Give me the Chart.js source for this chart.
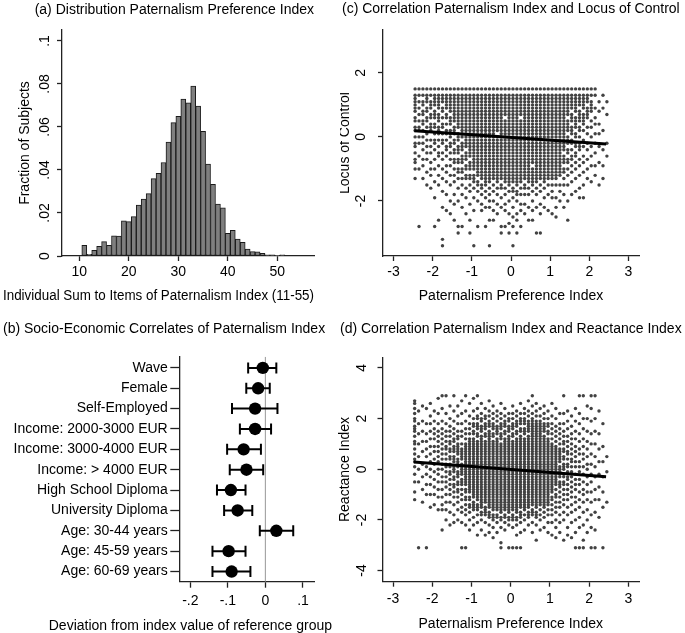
<!DOCTYPE html>
<html>
<head>
<meta charset="utf-8">
<script src="https://cdn.jsdelivr.net/npm/chart.js@4.4.1/dist/chart.umd.min.js"></script>
<style>
  html, body { margin: 0; padding: 0; background: #fff; overflow: hidden; }
  body { width: 685px; height: 633px; position: relative; }
  canvas { position: absolute; }
</style>
</head>
<body>
<canvas id="histChart" width="344" height="312" style="left:0;top:0;width:344px;height:312px"></canvas>
<canvas id="coefChart" width="334" height="320" style="left:0;top:315px;width:334px;height:320px"></canvas>
<canvas id="locusChart" width="360" height="312" style="left:340px;top:0;width:360px;height:312px"></canvas>
<canvas id="reactChart" width="364" height="320" style="left:336px;top:315px;width:364px;height:320px"></canvas>
<script>
// (a) histogram of the index sum
let histX = [11,12,13,14,15,16,17,18,19,20,21,22,23,24,25,26,27,28,29,30,31,32,33,34,35,36,37,38,39,40,41,42,43,44,45,46,47,48,49,50,51];
let histFrac = [.005,.0008,.0026,.0045,.0067,.005,.0094,.0093,.0164,.016,.0183,.0237,.0265,.029,.036,.0385,.0435,.053,.062,.065,.073,.0712,.079,.0697,.058,.0427,.0333,.0241,.0224,.0105,.0119,.0079,.0063,.0032,.002,.0019,.0012,.0006,.0005,.0003,.0006];
let histXTicks = [10,20,30,40,50];
let histYTicks = [0,.02,.04,.06,.08,.1];

// (b) coefficients with confidence intervals
let coefLabels = ['Wave','Female','Self-Employed','Income: 2000-3000 EUR','Income: 3000-4000 EUR','Income: > 4000 EUR','High School Diploma','University Diploma','Age: 30-44 years','Age: 45-59 years','Age: 60-69 years'];
let coefEst = [-.007,-.0195,-.0275,-.0275,-.058,-.0505,-.092,-.074,.029,-.098,-.09];
let coefLow = [-.046,-.051,-.089,-.068,-.102,-.095,-.129,-.11,-.015,-.141,-.141];
let coefHigh = [.029,.0115,.032,.015,-.012,-.006,-.053,-.035,.074,-.053,-.04];
let coefXTicks = [-.2,-.1,0,.1];

// (c) paternalism index vs locus of control, points grouped by index column
let idxTicks = [-3,-2,-1,0,1,2,3];
let locYTicks = [-2,0,2];
let locFitX = [-2.47,2.43];
let locFitY = [.19,-.22];
let locCols = [
  [-2.45,[1.5,1.3,1.2,1.1,1,.9,.8,.6,.5,.3,.2,0,-.2,-.3,-.5,-.7,-.8,-1,-1.3]],
  [-2.35,[1.5,1.3,1.1,.9,.7,.5,.3,.2,0,-.2,-.6,-1,-2.8]],
  [-2.25,[1.5,1.3,1.1,1,.8,.7,.5,.4,.2,0,-.2,-.4,-.7,-.9,-1.3]],
  [-2.15,[1.5,1.3,1.2,1.1,.9,.8,.6,.5,.3,.1,-.1,-.3,-.5,-.7,-1.1,-1.5]],
  [-2.05,[1.5,1.3,1.1,1,.9,.7,.6,.4,.3,.2,-.1,-.3,-.5,-.8,-1,-1.2,-1.6]],
  [-1.95,[1.5,1.3,1.2,1.1,1,.8,.7,.6,.4,.3,.1,-.1,-.2,-.4,-.7,-1,-1.4,-1.9,-2.8]],
  [-1.85,[1.5,1.3,1.2,1.1,1,.9,.7,.6,.5,.3,.2,.1,-.1,-.3,-.5,-.6,-.9,-1.2,-1.5,-2.6]],
  [-1.75,[1.5,1.3,1.2,1.1,.9,.8,.6,.4,.3,.1,-.1,-.2,-.5,-.7,-1,-1.3,-1.7,-2.2,-3.2,-3.4]],
  [-1.65,[1.5,1.3,1.2,1.1,1,.9,.7,.6,.4,.2,.1,-.1,-.3,-.4,-.6,-.9,-1.1,-1.4,-1.8,-2.3]],
  [-1.55,[1.5,1.3,1.2,1.1,1,.9,.8,.6,.5,.4,.2,.1,0,-.2,-.3,-.5,-.7,-.9,-1.2,-1.5,-2,-2.4]],
  [-1.45,[1.5,1.3,1.2,1.1,1,.9,.8,.7,.6,.5,.3,.2,.1,-.1,-.2,-.4,-.5,-.7,-.8,-1,-1.2,-1.4,-1.8,-2.1,-2.6]],
  [-1.35,[1.5,1.3,1.2,1.1,1,.9,.8,.7,.6,.5,.4,.3,.1,0,-.1,-.3,-.4,-.5,-.7,-.8,-1,-1.1,-1.3,-1.6,-2,-2.8,-3]],
  [-1.25,[1.5,1.3,1.2,1.1,1,.9,.8,.7,.6,.5,.4,.3,.2,.1,0,-.2,-.3,-.4,-.6,-.7,-.8,-1,-1.1,-1.3,-1.5,-1.8,-2.2,-2.8]],
  [-1.15,[1.5,1.3,1.2,1.1,1,.9,.8,.7,.6,.5,.4,.3,.2,.1,0,-.1,-.2,-.3,-.5,-.6,-.7,-.9,-1,-1.2,-1.3,-1.6,-1.9,-2.4]],
  [-1.05,[1.5,1.3,1.2,1.1,1,.9,.8,.7,.6,.5,.4,.3,.2,.1,0,-.1,-.2,-.3,-.4,-.5,-.6,-.8,-.9,-1,-1.2,-1.3,-1.5,-1.7,-2.1,-2.6,-3]],
  [-.95,[1.5,1.3,1.2,1.1,1,.9,.8,.7,.6,.5,.4,.3,.2,.1,0,-.1,-.2,-.3,-.4,-.5,-.6,-.7,-.8,-.9,-1,-1.2,-1.3,-1.4,-1.6,-1.9,-2.3,-3.4]],
  [-.85,[1.5,1.3,1.2,1.1,1,.9,.8,.7,.6,.5,.4,.3,.2,.1,0,-.1,-.2,-.3,-.4,-.5,-.6,-.7,-.8,-.9,-1,-1.1,-1.2,-1.4,-1.5,-1.7,-2,-2.8]],
  [-.75,[1.5,1.3,1.2,1.1,1,.9,.8,.7,.6,.5,.4,.3,.2,.1,0,-.1,-.2,-.3,-.4,-.5,-.6,-.7,-.8,-.9,-1,-1.1,-1.2,-1.3,-1.5,-1.6,-1.8,-2.1,-2.3]],
  [-.65,[1.5,1.3,1.2,1.1,1,.9,.8,.7,.6,.5,.4,.3,.2,.1,0,-.1,-.2,-.3,-.4,-.5,-.6,-.7,-.8,-.9,-1,-1.1,-1.2,-1.3,-1.4,-1.5,-1.7,-1.9,-2.2,-2.8]],
  [-.55,[1.5,1.3,1.2,1.1,1,.9,.8,.7,.6,.5,.4,.3,.2,.1,0,-.1,-.2,-.3,-.4,-.5,-.6,-.7,-.8,-.9,-1,-1.1,-1.2,-1.3,-1.4,-1.6,-1.8,-2,-2.2,-2.6,-3.4]],
  [-.45,[1.5,1.3,1.2,1.1,1,.9,.8,.7,.6,.5,.4,.3,.2,.1,0,-.1,-.2,-.3,-.4,-.5,-.6,-.7,-.8,-.9,-1,-1.1,-1.2,-1.3,-1.5,-1.7,-2,-2.3,-2.6]],
  [-.35,[1.5,1.3,1.2,1.1,1,.9,.8,.7,.6,.5,.4,.3,.2,0,-.1,-.2,-.3,-.4,-.5,-.6,-.7,-.8,-.9,-1,-1.1,-1.2,-1.3,-1.4,-1.6,-1.8,-2.1,-2.4]],
  [-.25,[1.5,1.3,1.2,1.1,1,.9,.8,.7,.6,.5,.4,.3,.2,.1,0,-.1,-.2,-.3,-.4,-.5,-.6,-.7,-.8,-.9,-1,-1.1,-1.2,-1.3,-1.5,-1.6,-1.9,-2.2,-2.8,-3]],
  [-.15,[1.5,1.3,1.2,1.1,1,.9,.8,.7,.5,.4,.3,.2,.1,0,-.1,-.2,-.3,-.4,-.5,-.6,-.7,-.8,-.9,-1,-1.1,-1.2,-1.3,-1.4,-1.6,-1.8,-2.1,-2.3,-2.8]],
  [-.05,[1.5,1.3,1.2,1.1,1,.9,.8,.7,.6,.5,.4,.3,.2,.1,0,-.1,-.2,-.3,-.4,-.5,-.6,-.7,-.8,-.9,-1,-1.1,-1.2,-1.3,-1.4,-1.5,-1.7,-2,-2.4,-2.7,-3]],
  [.05,[1.5,1.3,1.2,1.1,1,.9,.8,.7,.6,.5,.4,.3,.2,.1,0,-.1,-.2,-.3,-.4,-.5,-.6,-.7,-.8,-.9,-1,-1.1,-1.2,-1.3,-1.4,-1.6,-1.7,-1.9,-2.2,-2.5,-2.8,-3.4]],
  [.15,[1.5,1.3,1.2,1.1,1,.9,.8,.7,.6,.5,.4,.3,.2,.1,0,-.1,-.2,-.3,-.4,-.5,-.6,-.7,-.8,-.9,-1,-1.1,-1.2,-1.3,-1.4,-1.5,-1.7,-1.8,-2,-2.4,-2.6,-3]],
  [.25,[1.5,1.3,1.2,1.1,1,.9,.8,.7,.5,.4,.3,.2,.1,0,-.1,-.2,-.3,-.4,-.5,-.6,-.7,-.8,-.9,-1,-1.1,-1.2,-1.3,-1.4,-1.6,-1.8,-2.1,-2.3,-2.8]],
  [.35,[1.5,1.3,1.2,1.1,1,.9,.8,.7,.6,.5,.4,.3,.2,.1,0,-.1,-.2,-.3,-.4,-.5,-.6,-.7,-.8,-.9,-1,-1.1,-1.2,-1.3,-1.5,-1.6,-1.8,-2.1,-2.4]],
  [.45,[1.5,1.3,1.2,1.1,1,.9,.8,.7,.6,.5,.4,.3,.2,.1,0,-.1,-.2,-.3,-.4,-.5,-.6,-.7,-.8,-.9,-1,-1.1,-1.2,-1.3,-1.4,-1.6,-1.8,-2.2,-2.6]],
  [.55,[1.5,1.3,1.2,1.1,1,.9,.8,.7,.6,.5,.4,.3,.2,.1,0,-.1,-.2,-.3,-.4,-.5,-.6,-.7,-.8,-1,-1.1,-1.2,-1.3,-1.4,-1.5,-1.7,-2,-2.3,-2.6]],
  [.65,[1.5,1.3,1.2,1.1,1,.9,.8,.7,.6,.5,.4,.3,.2,.1,0,-.1,-.2,-.3,-.4,-.5,-.6,-.7,-.8,-.9,-1,-1.1,-1.2,-1.3,-1.4,-1.6,-1.8,-2.2,-3]],
  [.75,[1.5,1.3,1.2,1.1,1,.9,.8,.7,.6,.5,.4,.3,.2,.1,0,-.1,-.2,-.3,-.4,-.5,-.6,-.7,-.8,-.9,-1,-1.1,-1.2,-1.3,-1.5,-1.7,-2.1,-2.4,-3]],
  [.85,[1.5,1.3,1.2,1.1,1,.9,.8,.7,.6,.5,.4,.3,.2,.1,0,-.1,-.2,-.3,-.4,-.5,-.6,-.7,-.8,-.9,-1,-1.1,-1.2,-1.3,-1.4,-1.6,-1.9,-2.2]],
  [.95,[1.5,1.3,1.2,1.1,1,.9,.8,.7,.6,.5,.4,.3,.2,.1,0,-.1,-.2,-.3,-.4,-.5,-.6,-.7,-.8,-.9,-1,-1.1,-1.2,-1.3,-1.5,-1.8,-2.3]],
  [1.05,[1.5,1.3,1.2,1.1,1,.9,.8,.7,.6,.5,.4,.3,.2,.1,0,-.1,-.2,-.3,-.4,-.5,-.6,-.7,-.8,-.9,-1,-1.1,-1.2,-1.3,-1.5,-1.7,-1.9,-2.4]],
  [1.15,[1.5,1.3,1.2,1.1,1,.9,.8,.7,.6,.5,.4,.3,.2,.1,0,-.1,-.2,-.3,-.4,-.5,-.6,-.7,-.8,-.9,-1,-1.1,-1.2,-1.3,-1.5,-1.9,-2.2,-2.5]],
  [1.25,[1.5,1.3,1.2,1.1,1,.9,.8,.7,.6,.5,.4,.3,.2,.1,0,-.1,-.2,-.3,-.4,-.5,-.6,-.7,-.8,-.9,-1,-1.1,-1.2,-1.5,-1.7,-2]],
  [1.35,[1.5,1.3,1.2,1.1,1,.9,.8,.7,.6,.5,.4,.3,.2,.1,0,-.1,-.2,-.3,-.4,-.6,-.7,-.8,-1,-1.1,-1.3,-1.5,-1.8,-2.2]],
  [1.45,[1.5,1.3,1.2,1.1,1,.9,.8,.7,.5,.4,.3,.2,0,-.1,-.2,-.4,-.5,-.7,-.8,-1,-1.2,-1.5,-2,-2.6]],
  [1.55,[1.5,1.3,1.2,1.1,1,.9,.7,.6,.5,.3,.2,.1,-.1,-.2,-.4,-.6,-.7,-.9,-1.1,-1.4,-1.8]],
  [1.65,[1.5,1.3,1.2,1.1,1,.9,.8,.6,.5,.4,.3,.1,0,-.2,-.3,-.5,-.6,-.8,-1,-1.3,-1.7]],
  [1.75,[1.5,1.3,1.2,1.1,1,.8,.7,.6,.5,.3,.2,0,-.2,-.3,-.4,-.7,-.9,-1.2,-1.6,-1.9]],
  [1.85,[1.5,1.3,1.2,1.1,1,.9,.7,.6,.5,.4,.2,-.1,-.3,-.6,-.8,-1.1,-1.5,-1.9]],
  [1.95,[1.5,1.3,1.2,1.1,.9,.8,.7,.6,.3,.1,-.2,-.4,-.7,-1,-1.3]],
  [2.05,[1.5,1.3,1.1,1,.9,.8,.5,.3,0,-.3,-.6,-.9,-1.4]],
  [2.15,[1.5,1.3,.9,.6,.4,.1,-.2,-.5,-.9,-1.2]],
  [2.25,[1.1,.8,.4,.1,-.3,-.8,-1.5]],
  [2.35,[1.3,.9,.2,-.4,-.9,-1.3]],
  [2.45,[1.1,.7,-.2,-.6]]
];

// (d) paternalism index vs reactance index
let reaYTicks = [-4,-2,0,2,4];
let reaFitX = [-2.47,2.43];
let reaFitY = [.29,-.3];
let reaCols = [
  [-2.45,[2.7,2.6,2.4,2.2,2,1.9,1.7,1.6,1.5,1.3,1.1,1,.8,.6,.4,.3,.1,-.2,-.5,-.9,-1.2]],
  [-2.35,[2.3,1.8,1.4,1,.5,0,-.5,-3.1]],
  [-2.25,[2.5,1.9,1.5,1.1,.7,.2,-.3,-.8,-1.3]],
  [-2.15,[2.4,1.8,1.4,1.1,.8,.5,.1,-.2,-.6,-1,-3.1]],
  [-2.05,[2.6,2.1,1.8,1.5,1.2,.9,.6,.3,0,-.3,-.6,-1,-1.5]],
  [-1.95,[2.3,1.9,1.6,1.4,1.2,.9,.7,.4,.2,-.1,-.4,-.7,-1,-1.4]],
  [-1.85,[2.8,2.2,1.8,1.5,1.3,1.1,.9,.7,.5,.3,0,-.2,-.5,-.8,-1.1,-1.6]],
  [-1.75,[2.9,2.4,1.9,1.6,1.4,1.2,1,.8,.6,.4,.2,0,-.3,-.5,-.8,-1.1,-1.4,-1.6,-2.4]],
  [-1.65,[2.9,2.2,1.8,1.5,1.3,1.1,.9,.8,.6,.4,.2,.1,-.1,-.3,-.5,-.7,-1,-1.3,-1.6,-2]],
  [-1.55,[2.5,2,1.7,1.5,1.3,1.1,1,.8,.7,.5,.4,.2,.1,-.1,-.2,-.4,-.6,-.8,-1,-1.3,-1.7,-2.2]],
  [-1.45,[2.9,2.3,1.9,1.6,1.4,1.2,1.1,.9,.8,.7,.5,.4,.3,.1,0,-.1,-.3,-.4,-.6,-.7,-.9,-1.1,-1.4,-1.8,-2.1]],
  [-1.35,[2.5,2.1,1.8,1.5,1.3,1.2,1,.9,.8,.7,.6,.4,.3,.2,.1,-.1,-.2,-.3,-.5,-.6,-.8,-.9,-1.1,-1.3,-1.6,-2]],
  [-1.25,[2.7,2.2,1.8,1.5,1.3,1,.8,.7,.6,.5,.4,.2,.1,0,-.1,-.2,-.4,-.5,-.6,-.8,-1,-1.2,-1.5,-1.7,-2.1,-3.1]],
  [-1.15,[2.9,2.3,1.9,1.6,1.4,1.2,1,.9,.8,.7,.6,.5,.4,.3,.2,.1,0,-.1,-.2,-.3,-.4,-.5,-.6,-.8,-.9,-1.1,-1.2,-1.4,-1.6,-1.8,-2.2,-3.1]],
  [-1.05,[2.6,2.1,1.8,1.6,1.4,1.2,1.1,1,.9,.8,.7,.6,.5,.4,.3,.2,.1,0,-.1,-.2,-.3,-.4,-.5,-.6,-.7,-.8,-.9,-1.1,-1.2,-1.4,-1.5,-1.7,-2,-2.4]],
  [-.95,[2.8,2.3,2,1.8,1.7,1.5,1.4,1.2,1.1,1,.9,.8,.7,.6,.5,.4,.3,.2,.1,0,-.1,-.2,-.3,-.4,-.5,-.6,-.7,-.8,-.9,-1,-1.1,-1.3,-1.4,-1.5,-1.6,-1.9,-2.2]],
  [-.85,[2.9,2.4,2.1,2,1.8,1.7,1.6,1.4,1.3,1.1,1,.9,.8,.7,.6,.5,.4,.3,.2,.1,0,-.1,-.2,-.3,-.4,-.5,-.6,-.7,-.8,-.9,-1,-1.1,-1.2,-1.4,-1.5,-1.6,-1.8,-2.1,-2.6]],
  [-.75,[2.6,2.2,2,1.9,1.7,1.6,1.5,1.3,1.2,1.1,1,.9,.8,.7,.6,.5,.4,.3,.2,.1,0,-.1,-.2,-.3,-.4,-.5,-.6,-.7,-.8,-.9,-1,-1.1,-1.2,-1.3,-1.4,-1.5,-1.7,-1.8,-2,-2.4]],
  [-.65,[2.4,2.1,2,1.8,1.7,1.6,1.4,1.3,1.1,1,.9,.8,.7,.6,.5,.4,.3,.2,.1,0,-.1,-.2,-.3,-.4,-.5,-.6,-.7,-.8,-.9,-1,-1.1,-1.2,-1.3,-1.5,-1.6,-1.7,-1.8,-2.1,-2.6]],
  [-.55,[2.7,2.3,2.1,1.9,1.8,1.7,1.5,1.4,1.3,1.2,1.1,1,.9,.8,.7,.6,.5,.4,.3,.2,.1,0,-.1,-.2,-.3,-.4,-.5,-.6,-.7,-.8,-.9,-1,-1.1,-1.2,-1.3,-1.4,-1.5,-1.7,-1.8,-1.9,-2.2,-2.5]],
  [-.45,[2.5,2.2,2,1.8,1.7,1.6,1.4,1.3,1.1,1,.9,.8,.7,.6,.5,.4,.3,.2,.1,0,-.1,-.2,-.3,-.4,-.5,-.6,-.7,-.8,-.9,-1,-1.1,-1.2,-1.3,-1.4,-1.5,-1.6,-1.8,-1.9,-2,-2.3,-2.7]],
  [-.35,[2.3,2.1,1.9,1.7,1.6,1.5,1.4,1.2,1.1,1,.9,.8,.7,.6,.5,.4,.3,.2,.1,0,-.1,-.2,-.3,-.4,-.5,-.6,-.7,-.8,-.9,-1,-1.1,-1.2,-1.3,-1.4,-1.5,-1.6,-1.8,-1.9,-2.1,-2.5]],
  [-.25,[2.6,2.2,2,1.8,1.7,1.6,1.4,1.3,1.2,1,.9,.8,.7,.6,.5,.4,.3,.2,.1,0,-.1,-.2,-.3,-.4,-.5,-.6,-.7,-.8,-.9,-1,-1.1,-1.2,-1.3,-1.4,-1.5,-1.6,-1.7,-1.9,-2,-2.3,-2.9,-3.1]],
  [-.15,[2.4,2.1,1.9,1.8,1.7,1.5,1.4,1.2,1.1,1,.9,.8,.7,.6,.5,.4,.3,.2,.1,0,-.1,-.2,-.3,-.4,-.5,-.6,-.7,-.8,-.9,-1,-1.1,-1.2,-1.3,-1.4,-1.5,-1.6,-1.8,-1.9,-2.1,-2.4]],
  [-.05,[2.2,2,1.9,1.7,1.6,1.5,1.3,1.2,1.1,1,.9,.8,.7,.6,.5,.4,.3,.2,.1,0,-.1,-.2,-.3,-.4,-.5,-.6,-.7,-.8,-.9,-1,-1.1,-1.2,-1.3,-1.4,-1.5,-1.6,-1.7,-1.9,-2,-2.2,-3.1]],
  [.05,[2.5,2.2,2,1.8,1.7,1.6,1.4,1.3,1.1,1,.9,.8,.7,.6,.5,.4,.3,.2,.1,0,-.1,-.2,-.3,-.4,-.5,-.6,-.7,-.8,-.9,-1,-1.1,-1.2,-1.3,-1.4,-1.5,-1.6,-1.8,-1.9,-2,-2.3,-3.1]],
  [.15,[2.3,2.1,1.9,1.8,1.7,1.5,1.4,1.2,1.1,1,.9,.8,.7,.6,.5,.4,.3,.2,.1,0,-.1,-.2,-.3,-.4,-.5,-.6,-.7,-.8,-.9,-1,-1.1,-1.2,-1.3,-1.4,-1.5,-1.6,-1.7,-1.9,-2,-2.2,-2.6,-3.1]],
  [.25,[2.6,2.2,2,1.9,1.8,1.6,1.5,1.3,1.2,1.1,1,.9,.8,.7,.6,.5,.4,.3,.2,.1,0,-.1,-.2,-.3,-.4,-.5,-.6,-.7,-.8,-.9,-1,-1.1,-1.2,-1.3,-1.4,-1.5,-1.7,-1.8,-1.9,-2.1,-2.5,-3.1]],
  [.35,[2.4,2.2,2,1.9,1.8,1.6,1.5,1.4,1.2,1.1,1,.9,.8,.7,.6,.5,.4,.3,.2,.1,0,-.1,-.2,-.3,-.4,-.5,-.6,-.7,-.8,-.9,-1,-1.1,-1.2,-1.3,-1.4,-1.5,-1.6,-1.8,-2,-2.4]],
  [.45,[2.7,2.3,2.1,1.9,1.8,1.7,1.6,1.5,1.3,1.2,1.1,1,.9,.8,.7,.6,.5,.4,.3,.2,.1,0,-.1,-.2,-.3,-.4,-.5,-.6,-.7,-.8,-.9,-1,-1.1,-1.2,-1.3,-1.4,-1.5,-1.7,-1.8,-1.9,-2.2]],
  [.55,[2.9,2.5,2.2,2,1.9,1.8,1.7,1.6,1.5,1.4,1.3,1.2,1.1,1,.9,.8,.7,.6,.5,.4,.3,.2,.1,0,-.1,-.2,-.3,-.4,-.5,-.6,-.7,-.8,-.9,-1,-1.1,-1.2,-1.3,-1.4,-1.6,-1.7,-1.8,-2.1,-2.5]],
  [.65,[2.6,2.3,2.1,1.9,1.8,1.7,1.6,1.5,1.4,1.3,1.2,1.1,1,.9,.8,.7,.6,.5,.4,.3,.2,.1,0,-.1,-.2,-.3,-.4,-.5,-.6,-.7,-.8,-.9,-1,-1.1,-1.2,-1.3,-1.4,-1.5,-1.7,-1.8,-1.9,-2.2,-2.8]],
  [.75,[2.4,2.1,1.9,1.8,1.7,1.6,1.5,1.4,1.3,1.2,1.1,1,.9,.8,.7,.6,.5,.4,.3,.2,.1,0,-.1,-.2,-.3,-.4,-.5,-.6,-.7,-.8,-.9,-1,-1.1,-1.2,-1.3,-1.4,-1.6,-1.8,-2,-2.4]],
  [.85,[2.5,2.2,2,1.8,1.7,1.6,1.5,1.3,1.2,1.1,1,.9,.8,.7,.6,.5,.4,.3,.2,.1,0,-.1,-.2,-.3,-.4,-.5,-.6,-.7,-.8,-.9,-1,-1.1,-1.2,-1.3,-1.4,-1.5,-1.7,-1.9,-2.3]],
  [.95,[2.3,2,1.8,1.7,1.5,1.4,1.2,1.1,1,.9,.8,.7,.6,.5,.4,.3,.2,.1,0,-.1,-.2,-.3,-.4,-.5,-.6,-.7,-.8,-.9,-1,-1.1,-1.2,-1.3,-1.4,-1.6,-1.8,-2.1,-2.5]],
  [1.05,[2.6,2.1,1.8,1.6,1.4,1.2,1,.9,.8,.7,.6,.5,.4,.3,.2,.1,0,-.1,-.2,-.3,-.4,-.5,-.6,-.7,-.8,-.9,-1.1,-1.2,-1.4,-1.6,-1.8,-2.1,-2.6]],
  [1.15,[2.4,2,1.7,1.5,1.3,1.1,.9,.8,.7,.6,.5,.4,.3,.2,.1,0,-.1,-.2,-.3,-.4,-.5,-.6,-.8,-1,-1.1,-1.3,-1.5,-1.7,-2,-2.3,-2.7]],
  [1.25,[2.2,1.8,1.6,1.4,1.2,1,.8,.7,.6,.5,.4,.3,.1,0,-.1,-.2,-.3,-.5,-.6,-.7,-.9,-1.1,-1.3,-1.5,-1.8,-2.1,-2.5]],
  [1.35,[2.9,2.2,1.8,1.5,1.3,1.1,1,.8,.7,.5,.4,.2,.1,0,-.2,-.3,-.5,-.6,-.8,-1,-1.2,-1.4,-1.7,-2,-2.8]],
  [1.45,[2.3,1.9,1.6,1.3,1.1,.9,.7,.6,.4,.2,.1,-.1,-.3,-.4,-.6,-.8,-1,-1.2,-1.5,-1.8,-2.3,-2.6]],
  [1.55,[2.1,1.7,1.4,1.2,1,.8,.6,.4,.3,.1,-.1,-.3,-.5,-.7,-.9,-1.1,-1.4,-1.7,-2.1,-2.7]],
  [1.65,[2.4,1.9,1.5,1.2,.9,.7,.5,.3,.1,-.2,-.4,-.6,-.8,-1.1,-1.3,-1.6,-2,-2.5,-3.1]],
  [1.75,[2.9,2.2,1.8,1.4,1.1,.8,.6,.3,.1,-.1,-.4,-.6,-.9,-1.2,-1.5,-1.9,-2.3,-3.1]],
  [1.85,[2.9,2,1.6,1.2,.9,.6,.4,.1,-.2,-.5,-.8,-1,-1.3,-1.7,-2.2,-2.8,-3.1]],
  [1.95,[2.5,2,1.5,1.1,.8,.5,.2,0,-.3,-.6,-.9,-1.2,-1.6,-2,-2.5]],
  [2.05,[2.9,2.4,1.9,1.4,1,.6,.2,-.2,-.5,-.9,-1.3,-1.8,-2.3,-3.1]],
  [2.15,[2.9,2,1.5,1,.5,.1,-.3,-.8,-1.2,-1.7,-2.4,-3.1]],
  [2.25,[2.3,1.4,.8,.3,-.2,-.7,-1.2,-1.9]],
  [2.35,[1.8,.9,.3,-.3,-.9,-1.5,-3.1]],
  [2.45,[.5,-.1,-1.3]]
];

Chart.defaults.font.family = '"Liberation Sans", Arial, Helvetica, sans-serif';
Chart.defaults.font.size = 14;
Chart.defaults.color = '#000';
Chart.defaults.animation = false;
Chart.defaults.responsive = false;
Chart.defaults.devicePixelRatio = 1;
Chart.defaults.events = [];
Chart.defaults.plugins.legend.display = false;
Chart.defaults.plugins.tooltip.enabled = false;

let axisColor = '#222';
let dotColor = '#424242';

// stata style numbers: .02, -.2
let stata = (v) => String(v).replace(/^(-?)0\./, '$1.');

function axis(o) {
  return {
    type: 'linear',
    position: o.position,
    min: o.min,
    max: o.max,
    reverse: o.reverse || false,
    offset: false,
    border: { display: true, color: axisColor, width: 1.3 },
    grid: { display: true, offset: false, drawOnChartArea: false, drawTicks: true, tickLength: o.tickLength || 5, tickColor: axisColor, tickWidth: 1.3 },
    ticks: {
      autoSkip: false,
      padding: o.padding,
      color: '#000',
      font: { size: 14 },
      minRotation: o.rotate || 0,
      maxRotation: o.rotate || 0,
      crossAlign: o.rotate ? 'center' : 'near',
      callback: o.format || ((v) => stata(v))
    },
    title: o.title ? { display: true, text: o.title, color: '#000', font: { size: 14 }, padding: o.titlePadding } : { display: false },
    afterBuildTicks: (s) => { s.ticks = o.ticks.map((v) => ({ value: v })); },
    afterFit: (s) => { if (s.isHorizontal()) s.height = o.size; else s.width = o.size; }
  };
}

// empty right-hand box, keeps the plot edge while titles get the full width
function spacer(width) {
  return { position: 'right', display: true, grid: { display: false }, border: { display: false }, ticks: { display: false },
    afterFit: (s) => { s.width = width; } };
}

function heading(text, align, top, bottom, position) {
  return { display: true, text: text, align: align, position: position || 'top', color: '#000', font: { size: 14, weight: 'normal' }, padding: { top: top, bottom: bottom } };
}

let toPoints = (cols) => cols.flatMap(([x, ys]) => ys.map((y) => ({ x: x, y: y })));

// (a)
new Chart(document.getElementById('histChart'), {
  type: 'bar',
  data: {
    datasets: [{
      data: histX.map((x, i) => ({ x: x, y: histFrac[i] })),
      backgroundColor: '#7f7f7f',
      borderColor: '#1a1a1a',
      borderWidth: 1,
      borderSkipped: false,
      barPercentage: 1,
      categoryPercentage: 1
    }]
  },
  options: {
    layout: { padding: { left: 3, right: 30, top: 0, bottom: 0 } },
    plugins: {
      title: heading('(a) Distribution Paternalism Preference Index', 'end', 1.3, 11.9),
      subtitle: heading('Individual Sum to Items of Paternalism Index (11-55)', 'start', 0, 7.8, 'bottom')
    },
    scales: {
      x: axis({ position: 'bottom', min: 6.5, max: 57.4, ticks: histXTicks, padding: 3, size: 31.4 }),
      y: axis({ position: 'left', min: 0, max: .1051, ticks: histYTicks, rotate: 90, padding: 2.3, size: 59,
        title: 'Fraction of Subjects', titlePadding: { top: 13.6, bottom: 0 } })
    }
  }
});

// (b)
let rowMin = .45, rowMax = 11.5;
new Chart(document.getElementById('coefChart'), {
  type: 'scatter',
  data: {
    datasets: [
      { data: coefEst.map((v, i) => ({ x: v, y: i + 1 })), pointRadius: 6.2, pointBackgroundColor: '#000', pointBorderWidth: 0, order: 0 },
      ...coefLow.map((lo, i) => ({
        data: [{ x: lo, y: i + 1 }, { x: coefHigh[i], y: i + 1 }],
        showLine: true, borderColor: '#000', borderWidth: 2,
        pointStyle: 'line', pointRotation: 90, pointRadius: 5.5, pointBorderColor: '#000', pointBorderWidth: 2, order: 1
      })),
      { data: [{ x: 0, y: rowMin }, { x: 0, y: rowMax }], showLine: true, borderColor: '#a6a6a6', borderWidth: 1.2, pointRadius: 0, order: 2 }
    ]
  },
  options: {
    layout: { padding: { left: 3, right: 2, top: 0, bottom: 0 } },
    plugins: {
      title: heading('(b) Socio-Economic Correlates of Paternalism Index', 'start', 6.1, 18.8),
      subtitle: heading('Deviation from index value of reference group', 'end', 0, .8, 'bottom')
    },
    scales: {
      x: axis({ position: 'bottom', min: -.2293, max: .1293, ticks: coefXTicks, tickLength: 6, padding: 4.6, size: 35.7 }),
      y: axis({ position: 'left', min: rowMin, max: rowMax, reverse: true, ticks: coefLabels.map((l, i) => i + 1),
        format: (v) => coefLabels[v - 1], tickLength: 9, padding: 2.6, size: 176.3 }),
      yr: spacer(18)
    }
  }
});

// (c)
new Chart(document.getElementById('locusChart'), {
  type: 'scatter',
  data: {
    datasets: [
      { data: locFitX.map((x, i) => ({ x: x, y: locFitY[i] })), showLine: true, borderColor: '#000', borderWidth: 3, pointRadius: 0, order: 0 },
      { data: toPoints(locCols), pointRadius: 1.7, pointBackgroundColor: dotColor, pointBorderWidth: 0, pointBorderColor: 'transparent', order: 1 }
    ]
  },
  options: {
    layout: { padding: { left: 2, right: 0, top: 0, bottom: 0 } },
    plugins: {
      title: heading('(c) Correlation Paternalism Index and Locus of Control', 'start', .6, 12.6)
    },
    scales: {
      x: axis({ position: 'bottom', min: -3.27, max: 3.27, ticks: idxTicks, padding: 3.1, size: 56,
        title: 'Paternalism Preference Index', titlePadding: { top: 0, bottom: 7.8 } }),
      y: axis({ position: 'left', min: -3.72, max: 3.34, ticks: locYTicks, rotate: 90, padding: 10.8, size: 41,
        title: 'Locus of Control', titlePadding: { top: -5.4, bottom: 0 } }),
      yr: spacer(61)
    }
  }
});

// (d)
new Chart(document.getElementById('reactChart'), {
  type: 'scatter',
  data: {
    datasets: [
      { data: reaFitX.map((x, i) => ({ x: x, y: reaFitY[i] })), showLine: true, borderColor: '#000', borderWidth: 3, pointRadius: 0, order: 0 },
      { data: toPoints(reaCols), pointRadius: 1.7, pointBackgroundColor: dotColor, pointBorderWidth: 0, pointBorderColor: 'transparent', order: 1 }
    ]
  },
  options: {
    layout: { padding: { left: 4, right: 0, top: 0, bottom: 0 } },
    plugins: {
      title: heading('(d) Correlation Paternalism Index and Reactance Index', 'start', 5.6, 19.9)
    },
    scales: {
      x: axis({ position: 'bottom', min: -3.27, max: 3.27, ticks: idxTicks, padding: 4.1, size: 53.3,
        title: 'Paternalism Preference Index', titlePadding: { top: 0, bottom: 2.6 } }),
      y: axis({ position: 'left', min: -4.44, max: 4.42, ticks: reaYTicks, rotate: 90, padding: 9.6, size: 42.5,
        title: 'Reactance Index', titlePadding: { top: -3.4, bottom: 0 } }),
      yr: spacer(61)
    }
  }
});
</script>
</body>
</html>
